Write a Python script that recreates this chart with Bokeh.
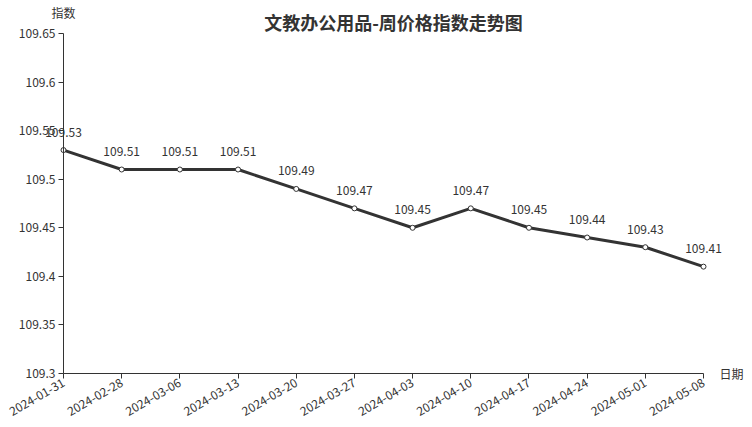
from bokeh.plotting import figure
from bokeh.models import ColumnDataSource, Range1d, FixedTicker, Label
from bokeh.embed import file_html
from bokeh.resources import INLINE

dates = ["2024-01-31", "2024-02-28", "2024-03-06", "2024-03-13", "2024-03-20", "2024-03-27",
         "2024-04-03", "2024-04-10", "2024-04-17", "2024-04-24", "2024-05-01", "2024-05-08"]
values = [109.53, 109.51, 109.51, 109.51, 109.49, 109.47, 109.45, 109.47, 109.45, 109.44, 109.43, 109.41]
y_ticks = [109.3, 109.35, 109.4, 109.45, 109.5, 109.55, 109.6, 109.65]
y_tick_labels = ["109.3", "109.35", "109.4", "109.45", "109.5", "109.55", "109.6", "109.65"]
title_text = "文教办公用品-周价格指数走势图"

FONT = "Noto Sans CJK SC"
TXT = "#333333"

n = len(dates)
xs = list(range(n))
src = ColumnDataSource(dict(x=xs, y=values))

# layout: plot frame fills the canvas; axes are bounded to the data area
W, H = 752, 427
left_px, right_px, top_px, bottom_px = 63, 703, 33, 373
ymin, ymax = y_ticks[0], y_ticks[-1]
xu = (right_px - left_px) / (n - 1)
yu = (ymax - ymin) / (bottom_px - top_px)
x_start = -left_px / xu
x_end = (n - 1) + (W - right_px) / xu
y_end = ymax + top_px * yu
y_start = ymin - (H - bottom_px) * yu

p = figure(width=W, height=H, output_backend="svg", toolbar_location=None,
           x_range=Range1d(x_start, x_end), y_range=Range1d(y_start, y_end),
           min_border_left=0, min_border_right=0, min_border_top=0, min_border_bottom=0)
p.outline_line_color = None
p.xgrid.visible = False
p.ygrid.visible = False

p.line("x", "y", source=src, line_color="#333333", line_width=3)
p.scatter("x", "y", source=src, size=5, fill_color="white", line_color="#333333", line_width=1)

for xi, v in zip(xs, values):
    p.add_layout(Label(x=xi, y=v, y_offset=18, text=f"{v:.2f}", text_align="center",
                       text_baseline="middle", text_font=FONT, text_font_size="12px",
                       text_color=TXT))

p.xaxis.ticker = FixedTicker(ticks=xs)
p.xaxis.major_label_overrides = {i: d for i, d in enumerate(dates)}
p.xaxis.major_label_orientation = 0.5236
p.xaxis.minor_tick_line_color = None
p.xaxis.bounds = (0, n - 1)
p.xaxis.fixed_location = ymin
p.yaxis.ticker = FixedTicker(ticks=y_ticks)
p.yaxis.major_label_overrides = {t: s for t, s in zip(y_ticks, y_tick_labels)}
p.yaxis.minor_tick_line_color = None
p.yaxis.bounds = (ymin, ymax)
p.yaxis.fixed_location = 0
for ax in (p.xaxis, p.yaxis):
    ax.axis_line_color = "#333333"
    ax.major_tick_line_color = "#333333"
    ax.major_tick_out = 5
    ax.major_tick_in = 0
    ax.major_label_text_font = FONT
    ax.major_label_text_font_size = "12px"
    ax.major_label_text_color = TXT
    ax.major_label_standoff = 3

p.add_layout(Label(x=(n - 1) / 2, y=ymax, x_offset=10, y_offset=12, text=title_text,
                   text_align="center", text_baseline="middle", text_font=FONT,
                   text_font_size="18px", text_font_style="bold", text_color=TXT))
p.add_layout(Label(x=0, y=ymax, y_offset=21, text="指数", text_align="center",
                   text_baseline="middle", text_font=FONT, text_font_size="12px",
                   text_color=TXT))
p.add_layout(Label(x=n - 1, y=ymin, x_offset=16, text="日期", text_align="left",
                   text_baseline="middle", text_font=FONT, text_font_size="12px",
                   text_color=TXT))

open("out.html", "w").write(file_html(p, INLINE))
